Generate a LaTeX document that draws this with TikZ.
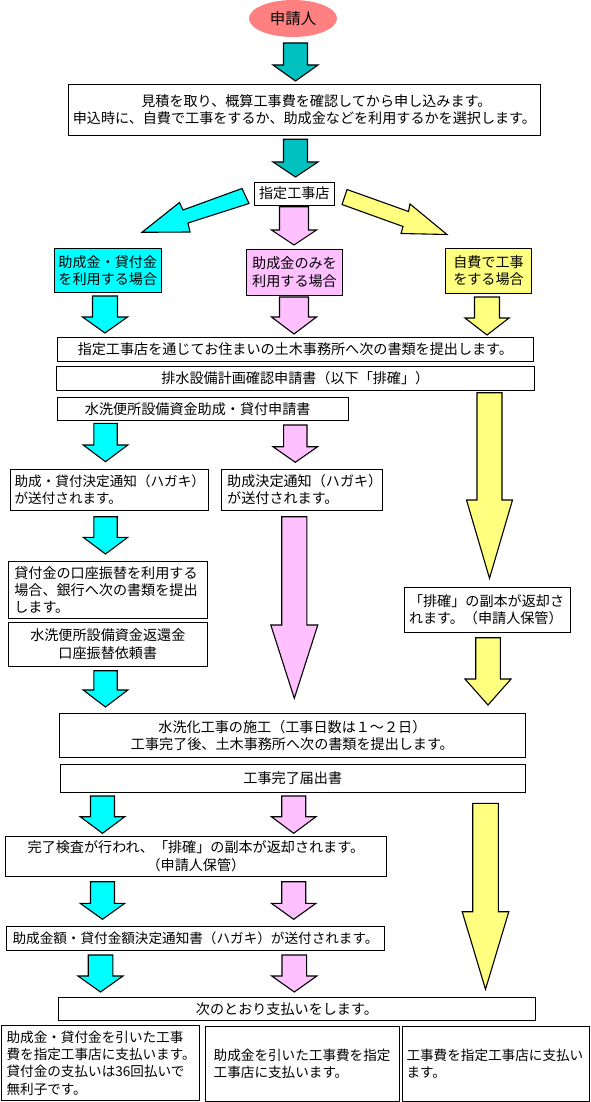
\documentclass[tikz,border=0pt]{standalone}
\usepackage{fontspec}
\usetikzlibrary{shapes.geometric}
\newfontfamily\jp{Noto Sans CJK JP}
\definecolor{tealc}{RGB}{0,192,192}
\definecolor{cyanc}{RGB}{0,255,255}
\definecolor{pinkc}{RGB}{255,192,255}
\definecolor{yellowc}{RGB}{255,255,128}
\definecolor{salmonc}{RGB}{255,128,128}
\newcommand\bdarr[7]{\filldraw[arrline, fill=#1] ({#2-#6},#3) -- ({#2+#6},#3) -- ({#2+#6},#4) -- ({#2+#7},#4) -- (#2,#5) -- ({#2-#7},#4) -- ({#2-#6},#4) -- cycle;}
\begin{document}
\begin{tikzpicture}[x=1pt,y=-1pt,
  box/.style={draw=black, line width=0.9pt, fill=white, inner sep=0pt, font=\jp\fontsize{14.1pt}{17.3pt}\selectfont, align=center},
  lbox/.style={box, align=left},
  smallf/.style={font=\jp\fontsize{13.6pt}{17.3pt}\selectfont},
  arrline/.style={draw=black, line width=1.1pt, line join=miter}]
\useasboundingbox (0,0) rectangle (590,1102);
\fill[white] (0,0) rectangle (590,1102);

% start
\node[ellipse, fill=salmonc, minimum width=88pt, minimum height=37pt, inner sep=0pt, font=\jp\fontsize{15.5pt}{18pt}\selectfont] (start) at (293,18.5) {申請人};
\bdarr{tealc}{295.5}{43}{65}{81}{12}{22.5}
\node[box, minimum width=471.2pt, minimum height=50.7pt] (b1) at (304.4,109.7) {\hspace*{24pt}見積を取り、概算工事費を確認してから申し込みます。\\申込時に、自費で工事をするか、助成金などを利用するかを選択します。};
\bdarr{tealc}{295.5}{139.3}{162}{177}{12}{22.5}
\node[box, minimum width=80.5pt, minimum height=23pt] (b2) at (294.3,193.5) {指定工事店};

% diagonal arrows
\filldraw[arrline, fill=cyanc] (242,188.5) -- (183,210) -- (179.5,202.5) -- (142,232.3) -- (190,232) -- (188,223) -- (249,203.5) -- cycle;
\bdarr{pinkc}{294}{206.7}{230}{245}{14.5}{22.5}
\filldraw[arrline, fill=yellowc] (347,189.5) -- (408.5,211.5) -- (410,204) -- (447,234.5) -- (401,233.5) -- (403,226.5) -- (342,204.5) -- cycle;

\node[box, fill=cyanc, minimum width=107pt, minimum height=43.3pt] (b3) at (107.8,270.3) {助成金・貸付金\\を利用する場合};
\node[box, fill=pinkc, minimum width=95.6pt, minimum height=45.7pt] (b4) at (294.5,272.2) {助成金のみを\\利用する場合};
\node[box, fill=yellowc, minimum width=85.6pt, minimum height=44.6pt] (b5) at (488.5,271) {自費で工事\\をする場合};

\bdarr{cyanc}{105}{296}{317}{333}{12.5}{22.5}
\bdarr{pinkc}{294}{297}{317}{334}{14.5}{22.5}
\bdarr{yellowc}{487}{297}{318}{335}{12.5}{22}

\node[box, minimum width=475.8pt, minimum height=24.4pt] (b6) at (295.4,349.5) {指定工事店を通じてお住まいの土木事務所へ次の書類を提出します。};
\node[box, minimum width=477.3pt, minimum height=23.3pt] (b7) at (295.3,378.3) {排水設備計画確認申請書（以下「排確」）};
\node[box, minimum width=290.5pt, minimum height=22.7pt] (b8) at (202.7,408.7) {水洗便所設備資金助成・貸付申請書\hspace*{10pt}};

\bdarr{cyanc}{105.5}{423.3}{445}{461.7}{11.7}{22.3}
\bdarr{pinkc}{295.3}{425}{446.7}{462.3}{11.7}{22.3}
\bdarr{yellowc}{489.5}{392.7}{500}{578.3}{12.5}{23}

\node[lbox, smallf, minimum width=197.4pt, minimum height=40.7pt, text width=189.4pt] (b9) at (109.3,489.7) {助成・貸付決定通知（ハガキ）\\が送付されます。};
\node[lbox, minimum width=161pt, minimum height=40.7pt, text width=150pt] (b10) at (302.2,489.7) {助成決定通知（ハガキ）\\が送付されます。};

\bdarr{cyanc}{105.5}{516.7}{537.3}{554}{11.7}{22.3}
\bdarr{pinkc}{294.3}{516.7}{625}{698.3}{12.6}{23.5}

\node[lbox, minimum width=199pt, minimum height=56.6pt, text width=187pt] (b11) at (107.8,590) {貸付金の口座振替を利用する\\場合、銀行へ次の書類を提出\\します。};
\node[box, minimum width=199pt, minimum height=43.3pt] (b12) at (107.8,644.3) {水洗便所設備資金返還金\\口座振替依頼書};
\node[lbox, minimum width=166pt, minimum height=45pt, text width=156pt] (b13) at (487,609.8) {「排確」の副本が返却さ\\れます。（申請人保管）};

\bdarr{yellowc}{488}{637.7}{679}{705}{12.3}{23}
\bdarr{cyanc}{105.5}{670.7}{690}{707}{11.7}{22.3}

\node[box, minimum width=465.2pt, minimum height=44pt] (b14) at (292.4,735.3) {水洗化工事の施工（工事日数は１～２日）\\工事完了後、土木事務所へ次の書類を提出します。};
\node[box, minimum width=464.5pt, minimum height=28.4pt] (b15) at (292.8,778.5) {工事完了届出書};

\bdarr{cyanc}{102.5}{796}{816.7}{833.3}{12}{22.3}
\bdarr{pinkc}{293.7}{796}{816.7}{833.3}{12}{22.3}
\bdarr{yellowc}{485.5}{803.3}{911.7}{989.3}{12.8}{23.3}

\node[box, minimum width=381.2pt, minimum height=40.7pt] (b16) at (195.9,856.3) {完了検査が行われ、「排確」の副本が返却されます。\\（申請人保管）};

\bdarr{cyanc}{102.5}{881.7}{903.3}{919.3}{12}{22.3}
\bdarr{pinkc}{293.7}{881.7}{903.3}{919.3}{12}{22.3}

\node[box, smallf, minimum width=378.2pt, minimum height=24pt] (b17) at (195.5,938) {助成金額・貸付金額決定通知書（ハガキ）が送付されます。};

\bdarr{cyanc}{100.5}{955}{976}{992}{12.3}{22.5}
\bdarr{pinkc}{294.3}{955}{976}{992}{12.3}{22.5}

\node[box, minimum width=476.6pt, minimum height=22.3pt] (b18) at (296.9,1008.8) {次のとおり支払いをします。\hspace*{20pt}};

\node[lbox, smallf, minimum width=198.3pt, minimum height=75.5pt, text width=187pt] (b19) at (100.1,1063) {助成金・貸付金を引いた工事\\費を指定工事店に支払います。\\貸付金の支払いは36回払いで\\無利子です。};
\node[lbox, smallf, minimum width=193.6pt, minimum height=75pt, text width=177pt] (b20) at (302.2,1063.5) {助成金を引いた工事費を指定\\工事店に支払います。};
\node[lbox, smallf, minimum width=187pt, minimum height=75pt, text width=178pt] (b21) at (495.5,1063.5) {工事費を指定工事店に支払い\\ます。};
\end{tikzpicture}
\end{document}
